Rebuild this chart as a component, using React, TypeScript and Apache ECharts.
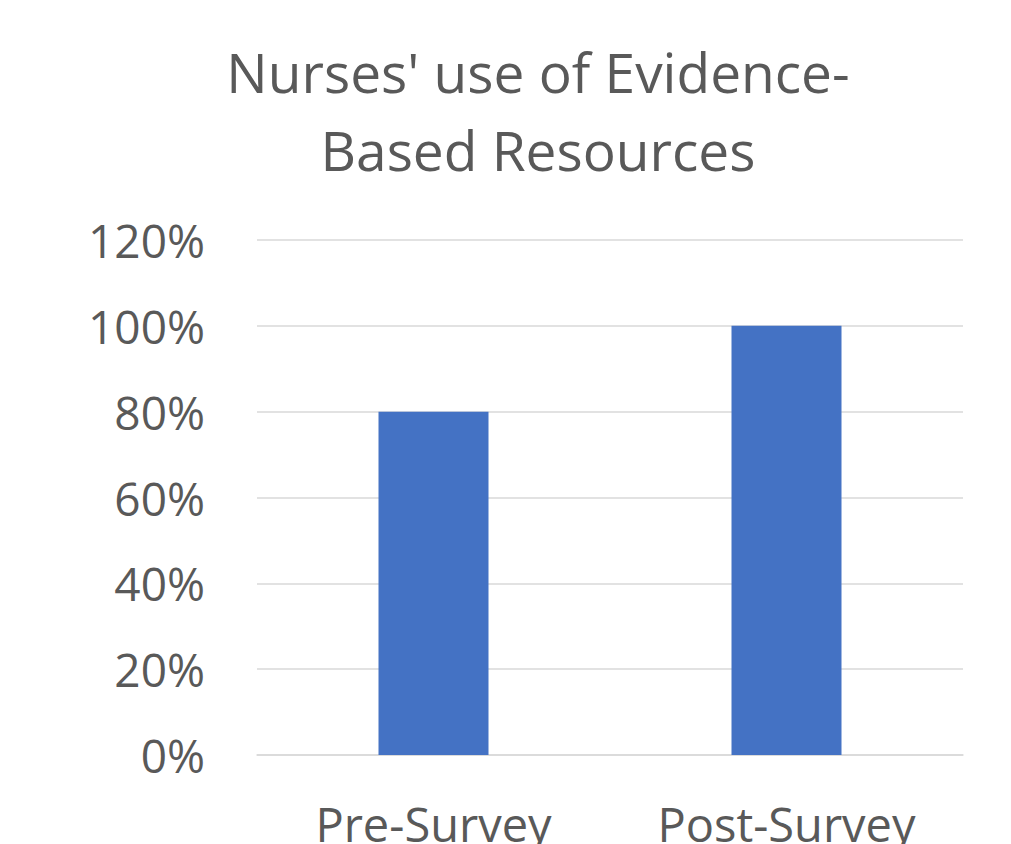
import React, { useEffect, useRef } from "react";
import * as echarts from "echarts";

const titleLines = ["Nurses' use of Evidence-", "Based Resources"];
const categories = ["Pre-Survey", "Post-Survey"];
const values = [0.8, 1.0];
const yMax = 1.2;
const yInterval = 0.2;

export default function App() {
  const ref = useRef<HTMLDivElement>(null);
  useEffect(() => {
    if (!ref.current) return;
    const chart = echarts.init(ref.current, null, { renderer: "svg" });
    const font = "'Open Sans', 'Liberation Sans', sans-serif";
    chart.setOption({
      animation: false,
      backgroundColor: "#ffffff",
      title: {
        text: titleLines.join("\n"),
        left: 533,
        top: 27,
        textAlign: "center",
        textStyle: {
          fontFamily: font,
          fontSize: 55,
          fontWeight: "normal",
          color: "#595959",
          lineHeight: 78,
        },
      },
      grid: {
        left: 257,
        right: 48,
        top: 240,
        bottom: 89,
        containLabel: false,
        outerBoundsMode: "none",
      },
      xAxis: {
        type: "category",
        data: categories,
        axisLine: { show: true, lineStyle: { color: "#d9d9d9", width: 1.5 } },
        axisTick: { show: false },
        axisLabel: {
          fontFamily: font,
          fontSize: 47,
          color: "#595959",
          margin: 45,
        },
      },
      yAxis: {
        type: "value",
        min: 0,
        max: yMax,
        interval: yInterval,
        axisLine: { show: false },
        axisTick: { show: false },
        splitLine: { lineStyle: { color: "#d9d9d9", width: 1.5 } },
        axisLabel: {
          fontFamily: font,
          fontSize: 46,
          color: "#595959",
          margin: 52,
          formatter: (v: number) => `${Math.round(v * 100)}%`,
        },
      },
      series: [
        {
          type: "bar",
          data: values,
          barWidth: 110,
          itemStyle: { color: "#4472c4" },
        },
      ],
    });
    return () => chart.dispose();
  }, []);
  return (
    <div
      ref={ref}
      style={{ position: "fixed", left: 0, top: 0, width: 1011, height: 844 }}
    />
  );
}
